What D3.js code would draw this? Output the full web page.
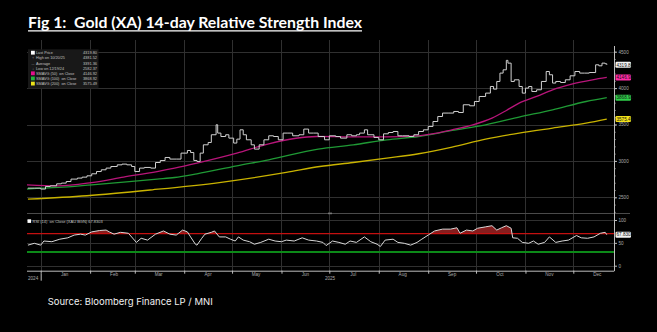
<!DOCTYPE html>
<html><head><meta charset="utf-8">
<script src="https://cdn.jsdelivr.net/npm/d3@7"></script>
<style>
html,body{margin:0;padding:0;background:#000;}
svg{display:block;}
</style></head>
<body>
<svg id="c" width="657" height="332"></svg>
<script>
const titleText = "Fig 1:  Gold (XA) 14-day Relative Strength Index";
const sourceText = "Source: Bloomberg Finance LP / MNI";

const price = [["2024-12-24",2626],["2024-12-28",2626],["2025-01-01",2613],["2025-01-04",2648],["2025-01-07",2658],["2025-01-11",2685],["2025-01-14",2695],["2025-01-17",2717],["2025-01-20",2750],["2025-01-24",2764],["2025-01-27",2777],["2025-01-30",2795],["2025-02-02",2823],["2025-02-05",2854],["2025-02-08",2878],["2025-02-11",2901],["2025-02-14",2923],["2025-02-18",2946],["2025-02-21",2956],["2025-02-24",2946],["2025-02-27",2923],["2025-03-01",2854],["2025-03-04",2901],["2025-03-07",2910],["2025-03-11",2901],["2025-03-14",2978],["2025-03-17",3005],["2025-03-20",3047],["2025-03-23",3025],["2025-03-27",3025],["2025-03-30",3107],["2025-04-03",3143],["2025-04-05",3115],["2025-04-07",3006],["2025-04-09",2992],["2025-04-11",3107],["2025-04-13",3221],["2025-04-16",3253],["2025-04-18",3359],["2025-04-21",3496],["2025-04-22",3382],["2025-04-24",3335],["2025-04-27",3359],["2025-04-29",3313],["2025-05-02",3245],["2025-05-04",3299],["2025-05-06",3427],["2025-05-08",3359],["2025-05-10",3290],["2025-05-13",3221],["2025-05-15",3162],["2025-05-18",3221],["2025-05-21",3290],["2025-05-24",3345],["2025-05-27",3335],["2025-05-30",3290],["2025-06-02",3382],["2025-06-05",3382],["2025-06-08",3345],["2025-06-12",3359],["2025-06-15",3437],["2025-06-18",3382],["2025-06-21",3382],["2025-06-24",3335],["2025-06-28",3290],["2025-07-01",3345],["2025-07-05",3335],["2025-07-08",3313],["2025-07-12",3359],["2025-07-15",3345],["2025-07-18",3359],["2025-07-20",3382],["2025-07-23",3427],["2025-07-25",3359],["2025-07-29",3322],["2025-08-01",3290],["2025-08-04",3372],["2025-08-07",3390],["2025-08-10",3404],["2025-08-13",3345],["2025-08-16",3345],["2025-08-20",3335],["2025-08-23",3359],["2025-08-26",3404],["2025-08-29",3427],["2025-09-01",3473],["2025-09-04",3541],["2025-09-07",3610],["2025-09-10",3657],["2025-09-14",3657],["2025-09-17",3679],["2025-09-20",3665],["2025-09-23",3771],["2025-09-27",3757],["2025-09-30",3816],["2025-10-03",3885],["2025-10-07",3931],["2025-10-10",4022],["2025-10-12",3986],["2025-10-14",4091],["2025-10-16",4206],["2025-10-18",4251],["2025-10-20",4381],["2025-10-21",4343],["2025-10-23",4091],["2025-10-25",4114],["2025-10-28",4022],["2025-10-30",3931],["2025-11-01",4000],["2025-11-03",4022],["2025-11-05",3953],["2025-11-08",3977],["2025-11-11",4091],["2025-11-14",4228],["2025-11-16",4183],["2025-11-18",4069],["2025-11-20",4091],["2025-11-23",4077],["2025-11-26",4114],["2025-11-29",4169],["2025-12-02",4228],["2025-12-05",4206],["2025-12-08",4206],["2025-12-11",4214],["2025-12-15",4320],["2025-12-17",4306],["2025-12-19",4343],["2025-12-21",4334],["2025-12-22",4320]];

const sma50 = [["2024-12-23",2672],["2025-01-12",2658],["2025-02-02",2703],["2025-02-22",2777],["2025-03-15",2854],["2025-03-26",2901],["2025-04-09",2970],["2025-05-04",3107],["2025-05-24",3235],["2025-06-23",3335],["2025-07-15",3330],["2025-08-06",3330],["2025-08-26",3345],["2025-09-16",3427],["2025-09-29",3496],["2025-10-11",3588],["2025-10-20",3692],["2025-10-28",3794],["2025-11-08",3885],["2025-11-18",3977],["2025-11-30",4055],["2025-12-13",4114],["2025-12-22",4147]];

const sma100 = [["2024-12-22",2613],["2025-01-12",2635],["2025-02-02",2672],["2025-02-22",2709],["2025-03-15",2750],["2025-03-26",2772],["2025-04-09",2823],["2025-05-04",2933],["2025-05-24",3015],["2025-06-24",3162],["2025-07-16",3221],["2025-08-06",3290],["2025-08-26",3335],["2025-09-16",3418],["2025-10-07",3496],["2025-10-28",3602],["2025-11-18",3702],["2025-12-09",3816],["2025-12-22",3869]];

const sma200 = [["2024-12-24",2475],["2025-01-30",2521],["2025-03-12",2603],["2025-04-23",2703],["2025-06-04",2841],["2025-06-25",2923],["2025-07-16",2978],["2025-08-06",3038],["2025-08-26",3098],["2025-09-16",3190],["2025-10-07",3299],["2025-10-28",3382],["2025-11-18",3451],["2025-12-09",3519],["2025-12-22",3575]];

const rsi = [["2024-12-24",45],["2024-12-28",49],["2025-01-01",45],["2025-01-03",54],["2025-01-08",52.5],["2025-01-13",58],["2025-01-18",61],["2025-01-22",67],["2025-01-26",69],["2025-01-29",67],["2025-02-02",74],["2025-02-07",77],["2025-02-11",78],["2025-02-13",74],["2025-02-16",69],["2025-02-20",73],["2025-02-25",71],["2025-03-02",51],["2025-03-05",60],["2025-03-09",56],["2025-03-14",69],["2025-03-19",76],["2025-03-23",69],["2025-03-27",67],["2025-03-31",78],["2025-04-03",74],["2025-04-05",63],["2025-04-08",47],["2025-04-09",45],["2025-04-12",60],["2025-04-14",69],["2025-04-18",73],["2025-04-20",76],["2025-04-23",63],["2025-04-27",63],["2025-04-30",58],["2025-05-03",54],["2025-05-05",63],["2025-05-08",56],["2025-05-12",52.5],["2025-05-15",47],["2025-05-19",51],["2025-05-24",58],["2025-05-28",54],["2025-06-01",52.5],["2025-06-04",56],["2025-06-09",54],["2025-06-14",61],["2025-06-18",56],["2025-06-23",54],["2025-06-27",51],["2025-06-29",44],["2025-07-03",54],["2025-07-07",51],["2025-07-11",47],["2025-07-14",54],["2025-07-18",51],["2025-07-23",63],["2025-07-27",52.5],["2025-07-31",47],["2025-08-02",42],["2025-08-05",56],["2025-08-10",58],["2025-08-13",51],["2025-08-17",49],["2025-08-21",45],["2025-08-25",51],["2025-08-28",58],["2025-09-01",67],["2025-09-05",76],["2025-09-10",80],["2025-09-15",80],["2025-09-19",83],["2025-09-21",71],["2025-09-25",78],["2025-09-29",76],["2025-10-02",82],["2025-10-07",85],["2025-10-11",87.5],["2025-10-14",78],["2025-10-17",83],["2025-10-20",87.5],["2025-10-23",82],["2025-10-24",61],["2025-10-27",60],["2025-10-30",51],["2025-11-03",49],["2025-11-06",54],["2025-11-09",47],["2025-11-13",51],["2025-11-16",63],["2025-11-20",51],["2025-11-24",54],["2025-11-28",56],["2025-12-03",66],["2025-12-06",61],["2025-12-10",60],["2025-12-14",63],["2025-12-18",71],["2025-12-21",73],["2025-12-22",67.83]];

const priceTicks = [2500, 3000, 3500, 4000, 4500];
const rsiTicks = [0, 50, 100];
const rsiUpper = 70, rsiLower = 30;
const monthLabels = ["Jan","Feb","Mar","Apr","May","Jun","Jul","Aug","Sep","Oct","Nov","Dec"];
const yearLabels = ["2024", "2025"];
const legendLabels = ["Last Price","High on 10/20/25","Average","Low on 12/19/24","SMAVG (50)  on Close","SMAVG (100)  on Close","SMAVG (200)  on Close"];
const legendValues = ["4319.80","4381.52","3391.36","2582.37","4146.92","3868.92","3575.49"];
const lastValues = [4319.80, 4146.92, 3868.92, 3575.49];
const rsiLegend = "RSI (14)  on Close (XAU BGN) 67.8303";
const rsiLast = 67.8303;

const parse = d3.utcParse("%Y-%m-%d");
const toPts = arr => arr.map(([d, v]) => ({date: parse(d), v}));
const P = toPts(price), S50 = toPts(sma50), S100 = toPts(sma100), S200 = toPts(sma200), R = toPts(rsi);

const svg = d3.select("#c");
const W = 657, H = 332;
svg.append("rect").attr("width", W).attr("height", H).attr("fill", "#000");

const L = 27, RT = 614;
const x = d3.scaleUtc().domain([Date.UTC(2025,0,1), Date.UTC(2025,11,1)]).range([40.7, 573.3]);
const yP = d3.scaleLinear().domain([2500, 4500]).range([197.3, 51.7]);
const yR = d3.scaleLinear().domain([0, 100]).range([265.7, 220]);
const axisY = 270.7;

const defs = svg.append("defs");
defs.append("clipPath").attr("id","plot").append("rect").attr("x",L).attr("y",40).attr("width",RT-L).attr("height",175);
defs.append("clipPath").attr("id","rsiplot").append("rect").attr("x",L).attr("y",215).attr("width",RT-L).attr("height",55);
defs.append("clipPath").attr("id","above").append("rect").attr("x",L).attr("y",215).attr("width",RT-L).attr("height",yR(rsiUpper)-215);

const grid = svg.append("g").attr("stroke","#303030").attr("stroke-width",1).attr("shape-rendering","crispEdges");
const months = d3.utcMonth.range(new Date(Date.UTC(2025,0,1)), new Date(Date.UTC(2025,11,2)));
grid.selectAll(".vg").data(months).join("line")
  .attr("x1", d => Math.round(x(d))+0.5).attr("x2", d => Math.round(x(d))+0.5)
  .attr("y1", 40).attr("y2", axisY);
grid.selectAll(".hg").data(priceTicks).join("line")
  .attr("x1", L).attr("x2", RT).attr("y1", d => Math.round(yP(d))+0.5).attr("y2", d => Math.round(yP(d))+0.5);
grid.selectAll(".rg").data(rsiTicks).join("line")
  .attr("x1", L).attr("x2", RT).attr("y1", d => Math.round(yR(d))+0.5).attr("y2", d => Math.round(yR(d))+0.5);

// panel separator
svg.append("line").attr("x1",L).attr("x2",630).attr("y1",213.5).attr("y2",213.5).attr("stroke","#4a4a4a").attr("stroke-width",1);
svg.append("rect").attr("x",328).attr("y",212.6).attr("width",4).attr("height",1.6).attr("fill","#777");

// price panel lines
const main = svg.append("g").attr("clip-path","url(#plot)");
const smooth = d3.line().x(d => x(d.date)).y(d => yP(d.v)).curve(d3.curveMonotoneX);
main.append("path").datum(S200).attr("d", smooth).attr("fill","none").attr("stroke","#c9b300").attr("stroke-width",1.3);
main.append("path").datum(S100).attr("d", smooth).attr("fill","none").attr("stroke","#1f9a35").attr("stroke-width",1.3);
main.append("path").datum(S50).attr("d", smooth).attr("fill","none").attr("stroke","#b8157a").attr("stroke-width",1.3);
const step = d3.line().x(d => x(d.date)).y(d => yP(d.v)).curve(d3.curveStepAfter);
main.append("path").datum(P).attr("d", step).attr("fill","none").attr("stroke","#d0d0d0").attr("stroke-width",1);

// RSI panel
const rp = svg.append("g").attr("clip-path","url(#rsiplot)");
const area = d3.area().x(d => x(d.date)).y0(yR(rsiUpper)).y1(d => yR(d.v)).curve(d3.curveLinear);
rp.append("path").datum(R).attr("d", area).attr("fill","#861e1e").attr("clip-path","url(#above)");
rp.append("line").attr("x1",L).attr("x2",RT).attr("y1",yR(rsiUpper)).attr("y2",yR(rsiUpper)).attr("stroke","#c41010").attr("stroke-width",1.3);
rp.append("line").attr("x1",L).attr("x2",RT).attr("y1",yR(rsiLower)).attr("y2",yR(rsiLower)).attr("stroke","#0c8a18").attr("stroke-width",2.2);
const rline = d3.line().x(d => x(d.date)).y(d => yR(d.v)).curve(d3.curveLinear);
rp.append("path").datum(R).attr("d", rline).attr("fill","none").attr("stroke","#d8d8d8").attr("stroke-width",1);

// right axes
const axColor = "#bdbdbd";
svg.append("line").attr("x1",RT+0.5).attr("x2",RT+0.5).attr("y1",46).attr("y2",axisY+0.5).attr("stroke",axColor).attr("stroke-width",1);
const minorP = svg.append("g").attr("transform",`translate(${RT},0)`)
  .call(d3.axisRight(yP).tickValues(d3.range(2300, 4600, 100)).tickSize(1.5).tickFormat(""));
const majorP = svg.append("g").attr("transform",`translate(${RT},0)`)
  .call(d3.axisRight(yP).tickValues(priceTicks).tickSize(3).tickPadding(1.5).tickFormat(d3.format("d")));
const majorR = svg.append("g").attr("transform",`translate(${RT},0)`)
  .call(d3.axisRight(yR).tickValues(rsiTicks).tickSize(3).tickPadding(1.5).tickFormat(d3.format("d")));
[minorP, majorP, majorR].forEach(g => {
  g.select(".domain").remove();
  g.selectAll("line").attr("stroke", axColor);
  g.selectAll("text").attr("fill","#aaa").attr("font-size","4.6px").attr("font-family","Liberation Sans, Arial, sans-serif");
});

// bottom axis
const xa = svg.append("g").attr("transform",`translate(0,${axisY})`)
  .call(d3.axisBottom(x).tickValues(months).tickSize(3).tickFormat(""));
xa.select(".domain").remove();
xa.selectAll("line").attr("stroke", axColor);
svg.append("line").attr("x1",L).attr("x2",RT).attr("y1",axisY+0.5).attr("y2",axisY+0.5).attr("stroke",axColor);
svg.selectAll(".ml").data(monthLabels).join("text")
  .attr("x", (d,i) => x(new Date(Date.UTC(2025,i,16))))
  .attr("y", axisY+5.5).attr("text-anchor","middle")
  .attr("fill","#aaa").attr("font-size","4.6px").attr("font-family","Liberation Sans, Arial, sans-serif")
  .text(d => d);
svg.append("line").attr("x1",x(new Date(Date.UTC(2025,0,1)))+0.5).attr("x2",x(new Date(Date.UTC(2025,0,1)))+0.5)
  .attr("y1",axisY+3).attr("y2",axisY+10).attr("stroke",axColor);
svg.selectAll(".yl").data(yearLabels).join("text")
  .attr("x", (d,i) => i === 0 ? 28 : 330).attr("y", axisY+9)
  .attr("text-anchor", (d,i) => i === 0 ? "start" : "middle")
  .attr("fill","#aaa").attr("font-size","4.6px").attr("font-family","Liberation Sans, Arial, sans-serif")
  .text(d => d);

// value tags on right
const tagFont = "Liberation Sans, Arial, sans-serif";
function tag(yv, fill, txt) {
  const g = svg.append("g");
  g.append("rect").attr("x",RT+1.5).attr("y",yv-3).attr("width",15.5).attr("height",6).attr("rx",1.2).attr("fill",fill);
  g.append("text").attr("x",RT+2.5).attr("y",yv+1.7).attr("fill","#111").attr("font-size","4.6px").attr("font-family",tagFont).text(txt);
}
const tagColors = ["#f2f2f2","#ff2aa6","#2fcf4a","#f2e21a"];
lastValues.forEach((v,i) => tag(yP(v), tagColors[i], d3.format(".2f")(v)));
tag(yR(rsiLast), "#f2f2f2", d3.format(".4f")(rsiLast));

// legend
const lg = svg.append("g");
lg.append("rect").attr("x",28).attr("y",49.3).attr("width",70.5).attr("height",39).attr("fill","#181818");
const iconColors = ["#ffffff", null, null, null, "#e4108c", "#22b83a", "#ece41a"];
const iconSymbols = [null, "\u2191", "--", "\u2193", null, null, null];
legendLabels.forEach((lab, i) => {
  const cy = 52.8 + i*5.15;
  if (iconColors[i]) lg.append("rect").attr("x",31).attr("y",cy-2).attr("width",3.8).attr("height",3.8).attr("fill",iconColors[i]);
  else lg.append("text").attr("x",32.9).attr("y",cy+1.5).attr("text-anchor","middle").attr("fill","#bbb").attr("font-size","4px").attr("font-family",tagFont).text(iconSymbols[i]);
  lg.append("text").attr("x",36).attr("y",cy+1.5).attr("fill","#c0c0c0").attr("font-size","3.8px").attr("font-family",tagFont).style("white-space","pre").text(lab);
  lg.append("text").attr("x",97).attr("y",cy+1.5).attr("text-anchor","end").attr("fill","#c0c0c0").attr("font-size","3.9px").attr("font-family",tagFont).text(legendValues[i]);
});
svg.append("rect").attr("x",27.5).attr("y",219.3).attr("width",3.6).attr("height",3.6).attr("fill","#fff");
svg.append("text").attr("x",32.5).attr("y",222.6).attr("fill","#c0c0c0").attr("font-size","4px").attr("font-family",tagFont).style("white-space","pre").text(rsiLegend);

// title & source
svg.append("text").attr("x",28).attr("y",28).attr("fill","#fff")
  .attr("font-family","Lato, 'Open Sans', sans-serif").attr("font-weight","bold").attr("font-size","14.5px")
  .style("white-space","pre")
  .attr("textLength",334).attr("lengthAdjust","spacingAndGlyphs").text(titleText);
svg.append("line").attr("x1",28).attr("x2",362).attr("y1",30.9).attr("y2",30.9).attr("stroke","#fff").attr("stroke-width",1.1);
svg.append("text").attr("x",47.7).attr("y",304.5).attr("fill","#f0f0f0")
  .attr("font-family","Inter, 'Noto Sans', sans-serif").attr("font-size","9.6px")
  .attr("textLength",165).attr("lengthAdjust","spacingAndGlyphs").text(sourceText);
</script>
</body></html>
